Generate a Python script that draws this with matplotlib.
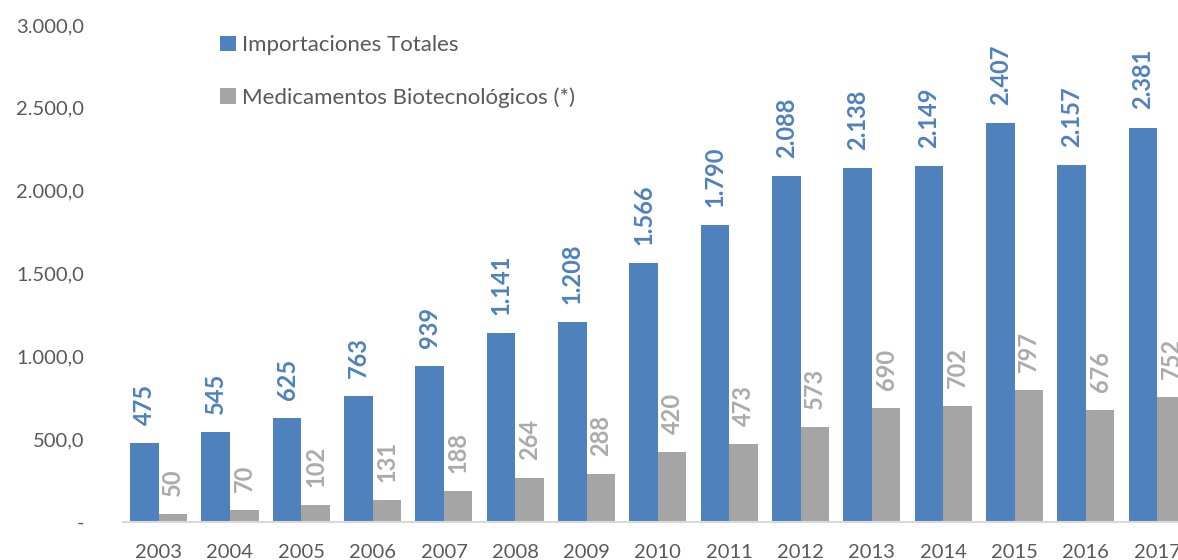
import numpy as np
import matplotlib.pyplot as plt
from matplotlib.ticker import FuncFormatter

years = ['2003', '2004', '2005', '2006', '2007', '2008', '2009', '2010',
         '2011', '2012', '2013', '2014', '2015', '2016', '2017']
importaciones = [475, 545, 625, 763, 939, 1141, 1208, 1566, 1790, 2088,
                 2138, 2149, 2407, 2157, 2381]
biotec = [50, 70, 102, 131, 188, 264, 288, 420, 473, 573, 690, 702, 797, 676, 752]

azul = '#4F81BD'
gris = '#A5A5A5'

plt.rcParams['font.family'] = ['Lato', 'DejaVu Sans']

fig = plt.figure(figsize=(11.78, 5.6), dpi=100)
ax = fig.add_axes([123 / 1178, 1 - 522 / 560, 1 - 123 / 1178, (522 - 25) / 560])

x = np.arange(len(years))
w = 0.4
b1 = ax.bar(x - w / 2, importaciones, w, color=azul, label='Importaciones Totales')
b2 = ax.bar(x + w / 2, biotec, w, color=gris, label='Medicamentos Biotecnológicos (*)')


def miles(v):
    return f'{v:,}'.replace(',', '.')


for barras, vals, col in [(b1, importaciones, azul), (b2, biotec, '#ABABAB')]:
    for r, v in zip(barras, vals):
        ax.annotate(miles(v), (r.get_x() + r.get_width() / 2, v),
                    xytext=(0, 13), textcoords='offset points',
                    rotation=90, ha='center', va='bottom',
                    fontsize=17, fontweight='bold', color=col, clip_on=False)

ax.set_ylim(0, 3000)
ax.set_xlim(-0.5, (1178 - 159) / 71.3)
ax.set_yticks(range(0, 3001, 500))


def fmt_y(v, pos):
    if v == 0:
        return '-'
    return f'{v:,.1f}'.replace(',', 'X').replace('.', ',').replace('X', '.')


ax.yaxis.set_major_formatter(FuncFormatter(fmt_y))
ax.set_xticks(x)
ax.set_xticklabels(years)
ax.tick_params(axis='both', length=0, labelsize=14.5, labelcolor='#595959')
ax.tick_params(axis='x', pad=16)
ax.tick_params(axis='y', pad=28)

for s in ['top', 'right', 'left']:
    ax.spines[s].set_visible(False)
ax.spines['bottom'].set_color('#D9D9D9')
ax.spines['bottom'].set_linewidth(1.5)

ax.legend(loc='upper left', bbox_to_anchor=(0.073, 1.02), frameon=False,
          fontsize=16, labelcolor='#595959', handlelength=0.7, handleheight=0.7,
          handletextpad=0.3, labelspacing=1.45)

plt.savefig('out.png', dpi=100)
